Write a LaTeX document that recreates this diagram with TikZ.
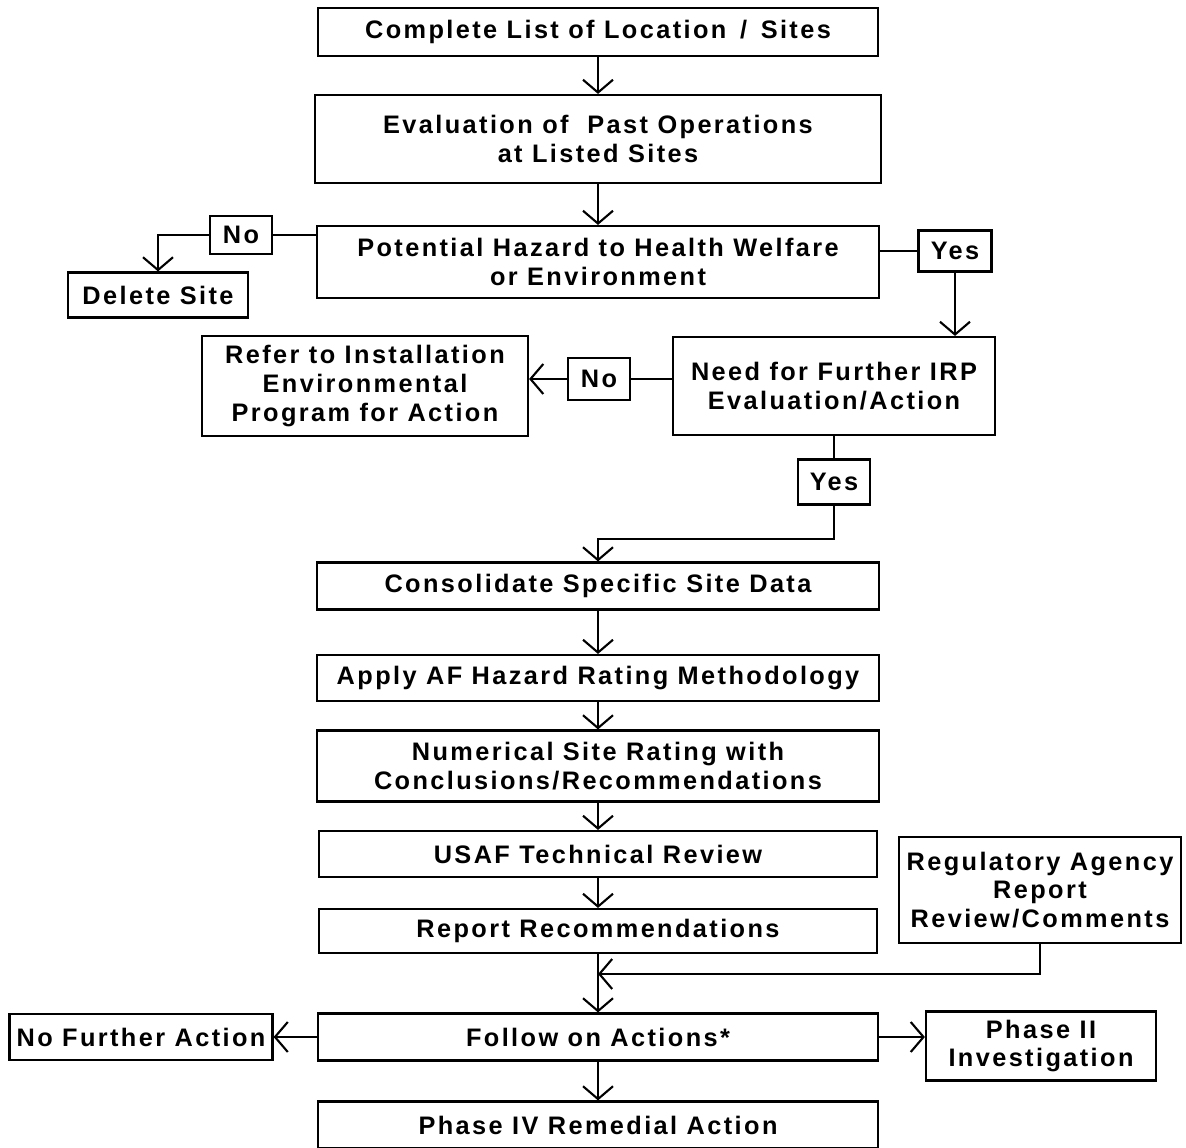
\documentclass[tikz,border=0pt]{standalone}
\usepackage{fontspec}
\setmainfont{Liberation Sans}[LetterSpace=9.5]
\usetikzlibrary{arrows.meta,positioning}

\begin{document}
\begin{tikzpicture}[x=0.025cm,y=-0.025cm,
  box/.style={draw, line width=1.5pt, inner sep=0pt, align=center,
    font=\bfseries\fontsize{18}{20.5}\selectfont},
  ln/.style={line width=1.5pt},
  arr/.style={line width=1.5pt, -{Straight Barb[length=3.2mm,width=7.5mm,line width=1.5pt]}}]
\useasboundingbox (0,0) rectangle (1186,1148);
\node [box, minimum width=14cm, minimum height=1.2cm] (list) at (598,32) {Complete List of Location \,/\, Sites};
\node [box, minimum width=14.15cm, minimum height=2.2cm] (eval) at (598,139) {Evaluation of \ Past Operations\\at Listed Sites};
\node [box, minimum width=14.05cm, minimum height=1.8cm] (hazard) at (598,262) {Potential Hazard to Health Welfare\\or Environment};
\node [box, minimum width=1.55cm, minimum height=0.95cm] (no1) at (241,235) {No};
\node [box, minimum width=4.5cm, minimum height=1.125cm] (delete) at (158,295) {Delete Site};
\node [box, minimum width=1.825cm, minimum height=1.025cm] (yes1) at (955,251) {Yes};
\node [box, minimum width=8.05cm, minimum height=2.45cm] (need) at (834,386) {Need for Further IRP\\Evaluation/Action};
\node [box, minimum width=1.55cm, minimum height=1.05cm] (no2) at (599,379) {No};
\node [box, minimum width=8.15cm, minimum height=2.5cm] (refer) at (365,386) {Refer to Installation\\Environmental\\Program for Action};
\node [box, minimum width=1.8cm, minimum height=1.125cm] (yes2) at (834,482) {Yes};
\node [box, minimum width=14.025cm, minimum height=1.175cm] (cons) at (598,586) {Consolidate Specific Site Data};
\node [box, minimum width=14.025cm, minimum height=1.15cm] (apply) at (598,678) {Apply AF Hazard Rating Methodology};
\node [box, minimum width=14.025cm, minimum height=1.775cm] (rating) at (598,766) {Numerical Site Rating with\\Conclusions/Recommendations};
\node [box, minimum width=13.925cm, minimum height=1.15cm] (usaf) at (598,854) {USAF Technical Review};
\node [box, minimum width=13.925cm, minimum height=1.1cm] (report) at (598,931) {Report Recommendations};
\node [box, minimum width=7.05cm, minimum height=2.65cm] (reg) at (1040,890) {Regulatory Agency\\Report\\Review/Comments};
\node [box, minimum width=14cm, minimum height=1.175cm] (follow) at (598,1037) {Follow on Actions*};
\node [box, minimum width=6.575cm, minimum height=1.15cm] (nofur) at (141,1037) {No Further Action};
\node [box, minimum width=5.75cm, minimum height=1.725cm] (phase2) at (1041,1046) {Phase II\\Investigation};
\node [box, minimum width=14cm, minimum height=1.175cm] (phase4) at (598,1125) {Phase IV Remedial Action};
\coordinate (join) at (598,974);
\draw [arr] (list) -- (eval);
\draw [arr] (eval) -- (hazard);
\draw [ln] (hazard.west |- no1) -- (no1);
\draw [arr] (no1.west) -| (delete.north);
\draw [ln] (hazard.east |- yes1) -- (yes1);
\draw [arr] (yes1.south) -- (yes1.south |- need.north);
\draw [ln] (need.west |- no2) -- (no2);
\draw [arr] (no2.west) -- (refer.east |- no2);
\draw [ln] (need) -- (yes2);
\draw [arr] (yes2.south) -- ++(0,33) -| (cons.north);
\draw [arr] (cons) -- (apply);
\draw [arr] (apply) -- (rating);
\draw [arr] (rating) -- (usaf);
\draw [arr] (usaf) -- (report);
\draw [arr] (report) -- (follow);
\draw [arr] (reg.south) |- (join);
\draw [arr] (follow) -- (nofur);
\draw [arr] (follow.east) -- (phase2.west |- follow.east);
\draw [arr] (follow) -- (phase4);
\end{tikzpicture}
\end{document}
